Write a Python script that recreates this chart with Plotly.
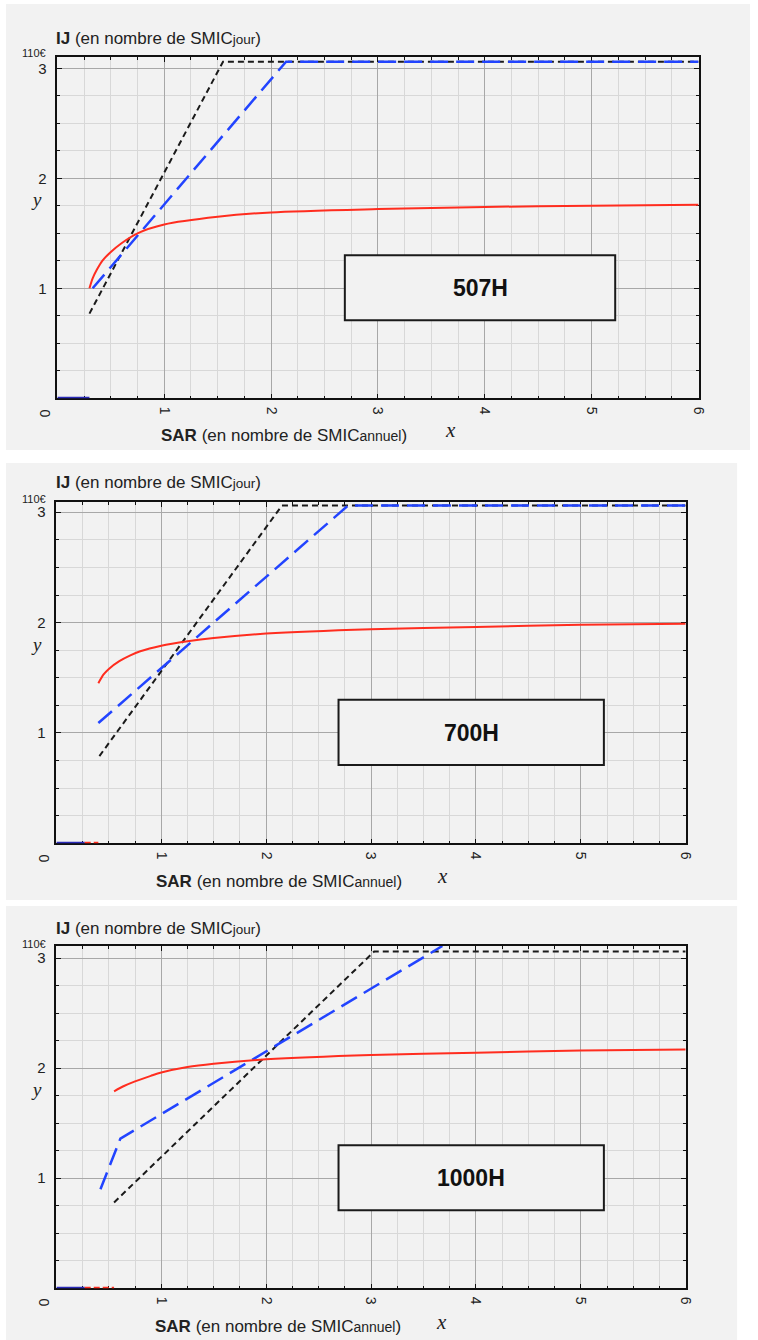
import plotly.graph_objects as go

# ---------------- data ----------------
panel_labels = ["507H", "700H", "1000H"]
x_tick_vals = [1, 2, 3, 4, 5, 6]
x_tick_text = ["1", "2", "3", "4", "5", "6"]
y_tick_vals = [1, 2, 3]
y_tick_text = ["1", "2", "3"]

# 507H
red_x_507 = [0.30, 0.33, 0.37, 0.42, 0.50, 0.60, 0.75, 1.00, 1.50, 2.00, 3.00, 4.00, 5.00, 6.00]
red_y_507 = [1.00, 1.09, 1.17, 1.25, 1.33, 1.41, 1.50, 1.58, 1.65, 1.69, 1.72, 1.74, 1.75, 1.76]
blue_x_507 = [0.33, 2.14, 6.00]
blue_y_507 = [1.00, 3.06, 3.06]
black_x_507 = [0.30, 1.55, 6.00]
black_y_507 = [0.77, 3.06, 3.06]
base_blue_x_507 = [0.00, 0.30]
base_red_x_507 = []

# 700H
red_x_700 = [0.40, 0.45, 0.50, 0.60, 0.70, 0.80, 1.00, 1.25, 1.50, 2.00, 3.00, 4.00, 5.00, 6.00]
red_y_700 = [1.45, 1.53, 1.58, 1.65, 1.70, 1.74, 1.79, 1.83, 1.86, 1.90, 1.94, 1.96, 1.98, 1.99]
blue_x_700 = [0.40, 2.78, 6.00]
blue_y_700 = [1.09, 3.06, 3.06]
black_x_700 = [0.41, 2.15, 6.00]
black_y_700 = [0.79, 3.06, 3.06]
base_blue_x_700 = [0.00, 0.27]
base_red_x_700 = [0.27, 0.40]

# 1000H
red_x_1000 = [0.55, 0.65, 0.75, 0.90, 1.00, 1.25, 1.50, 2.00, 3.00, 4.00, 5.00, 6.00]
red_y_1000 = [1.79, 1.84, 1.88, 1.93, 1.96, 2.01, 2.04, 2.08, 2.12, 2.14, 2.16, 2.17]
blue_x_1000 = [0.42, 0.61, 3.68]
blue_y_1000 = [0.90, 1.36, 3.11]
black_x_1000 = [0.55, 3.03, 6.00]
black_y_1000 = [0.78, 3.06, 3.06]
base_blue_x_1000 = [0.00, 0.27]
base_red_x_1000 = [0.27, 0.55]

series = [
    (red_x_507, red_y_507, blue_x_507, blue_y_507, black_x_507, black_y_507, base_blue_x_507, base_red_x_507),
    (red_x_700, red_y_700, blue_x_700, blue_y_700, black_x_700, black_y_700, base_blue_x_700, base_red_x_700),
    (red_x_1000, red_y_1000, blue_x_1000, blue_y_1000, black_x_1000, black_y_1000, base_blue_x_1000, base_red_x_1000),
]

# ---------------- layout geometry (pixels) ----------------
W, H = 758, 1340
# plot area: left, right, top, bottom(y=0), y-range max
geom = [
    dict(l=58, r=706, t=57.3, b=398.3, ymax=3.10, bg=(6, 758, 4, 450)),
    dict(l=57, r=693, t=502.3, b=843.3, ymax=3.09, bg=(6, 745, 463, 900)),
    dict(l=57, r=693, t=946.0, b=1288.3, ymax=3.11, bg=(6, 745, 906, 1340)),
]
# text positions per panel (pixels)
txt = [
    dict(ij=(55, 38), e=(49, 53), x=(455, 430), y=(37, 199), sar=(287, 436), zero=(45, 413)),
    dict(ij=(55, 483), e=(49, 499), x=(447, 876), y=(37, 644), sar=(282, 881), zero=(44, 858)),
    dict(ij=(55, 928), e=(49, 944), x=(446, 1322), y=(37, 1089), sar=(281, 1326), zero=(44, 1302)),
]

FONT = "Liberation Sans, Arial, Helvetica, sans-serif"
SERIF = "Liberation Serif, DejaVu Serif, serif"
RED = "#ff2d1f"
BLUE = "#2244ff"
BLACK = "#1a1a1a"
DARKBLUE = "#2a2ab8"


def px(x):
    return min(x / W, 1.0)


def py(y):
    return max(1 - y / H, 0.0)


fig = go.Figure()
annotations = []
shapes = []

for i, (g, t, s, lab) in enumerate(zip(geom, txt, series, panel_labels)):
    n = "" if i == 0 else str(i + 1)
    xa, ya = "x" + n, "y" + n
    rx, ry, bx, by, kx, ky, bbx, brx = s

    fig.add_trace(go.Scatter(x=kx, y=ky, mode="lines", xaxis=xa, yaxis=ya,
                             line=dict(color=BLACK, width=2, dash="6px,4px"), hoverinfo="skip"))
    fig.add_trace(go.Scatter(x=bx, y=by, mode="lines", xaxis=xa, yaxis=ya,
                             line=dict(color=BLUE, width=2.5, dash="18px,8px"), hoverinfo="skip"))
    fig.add_trace(go.Scatter(x=rx, y=ry, mode="lines", xaxis=xa, yaxis=ya,
                             line=dict(color=RED, width=2, shape="spline", smoothing=0.8), hoverinfo="skip"))
    fig.add_trace(go.Scatter(x=bbx, y=[0] * len(bbx), mode="lines", xaxis=xa, yaxis=ya,
                             line=dict(color=DARKBLUE, width=3), hoverinfo="skip"))
    if brx:
        fig.add_trace(go.Scatter(x=brx, y=[0] * len(brx), mode="lines", xaxis=xa, yaxis=ya,
                                 line=dict(color=RED, width=3, dash="6px,3px"), hoverinfo="skip"))

    common = dict(
        showline=True, linecolor="#111111", linewidth=1.5, mirror="ticks",
        ticks="inside", ticklen=5, tickwidth=1.3, tickcolor="#111111",
        showgrid=True, gridcolor="#a8a8a8", gridwidth=1, zeroline=False,
        minor=dict(tickmode="linear", tick0=0, dtick=0.25, showgrid=True,
                   gridcolor="#d8d8d8", gridwidth=1, ticks="inside", ticklen=3,
                   tickcolor="#111111", tickwidth=1),
        layer="below traces",
        fixedrange=True,
    )
    fig.update_layout(**{
        ("xaxis" + n): dict(
            common, domain=[px(g["l"]), px(g["r"])], range=[0, 6], anchor=ya,
            tickmode="array", tickvals=x_tick_vals, ticktext=x_tick_text,
            tickangle=90, tickfont=dict(family=FONT, size=14, color="#222"),
            ticklabelstandoff=4,
        ),
        ("yaxis" + n): dict(
            common, domain=[py(g["b"]), py(g["t"])], range=[0, g["ymax"]], anchor=xa,
            tickmode="array", tickvals=y_tick_vals, ticktext=y_tick_text,
            tickfont=dict(family=FONT, size=15, color="#222"),
            ticklabelstandoff=6,
        ),
    })

    # grey panel background
    l, r, tp, bt = g["bg"]
    shapes.append(dict(type="rect", xref="paper", yref="paper", layer="below",
                       x0=px(l), x1=px(r), y0=py(bt), y1=py(tp),
                       fillcolor="#f2f2f2", line=dict(width=0)))
    # label box
    shapes.append(dict(type="rect", xref=xa, yref=ya, layer="above",
                       x0=2.69, x1=5.22, y0=0.71, y1=1.30,
                       fillcolor="#f2f2f2", line=dict(color="#1a1a1a", width=2)))
    annotations.append(dict(xref=xa, yref=ya, x=3.955, y=1.0, text="<b>" + lab + "</b>",
                            showarrow=False, font=dict(family=FONT, size=23, color="#111")))

    annotations.append(dict(xref="paper", yref="paper", x=px(t["ij"][0]), y=py(t["ij"][1]),
                            xanchor="left", yanchor="middle", showarrow=False,
                            text="<b>IJ</b> (en nombre de SMIC<span style='font-size:13.5px'>jour</span>)",
                            font=dict(family=FONT, size=17, color="#222")))
    annotations.append(dict(xref="paper", yref="paper", x=px(t["e"][0]), y=py(t["e"][1]),
                            xanchor="right", yanchor="middle", showarrow=False,
                            text="110€", font=dict(family=FONT, size=11, color="#222")))
    annotations.append(dict(xref="paper", yref="paper", x=px(t["sar"][0]), y=py(t["sar"][1]),
                            xanchor="center", yanchor="middle", showarrow=False,
                            text="<b>SAR</b> (en nombre de SMIC<span style='font-size:14px'>annuel</span>)",
                            font=dict(family=FONT, size=17, color="#222")))
    annotations.append(dict(xref="paper", yref="paper", x=px(t["x"][0]), y=py(t["x"][1]),
                            xanchor="center", yanchor="middle", showarrow=False,
                            text="<i>x</i>", font=dict(family=SERIF, size=21, color="#222")))
    annotations.append(dict(xref="paper", yref="paper", x=px(t["y"][0]), y=py(t["y"][1]),
                            xanchor="center", yanchor="middle", showarrow=False,
                            text="<i>y</i>", font=dict(family=SERIF, size=19, color="#222")))
    annotations.append(dict(xref="paper", yref="paper", x=px(t["zero"][0]), y=py(t["zero"][1]),
                            xanchor="center", yanchor="middle", showarrow=False, textangle=90,
                            text="0", font=dict(family=FONT, size=14, color="#222")))

fig.update_layout(
    width=W, height=H, margin=dict(l=0, r=0, t=0, b=0, pad=0),
    paper_bgcolor="#ffffff", plot_bgcolor="#f2f2f2",
    showlegend=False, shapes=shapes, annotations=annotations,
    font=dict(family=FONT),
)

fig.write_html("out.html")
